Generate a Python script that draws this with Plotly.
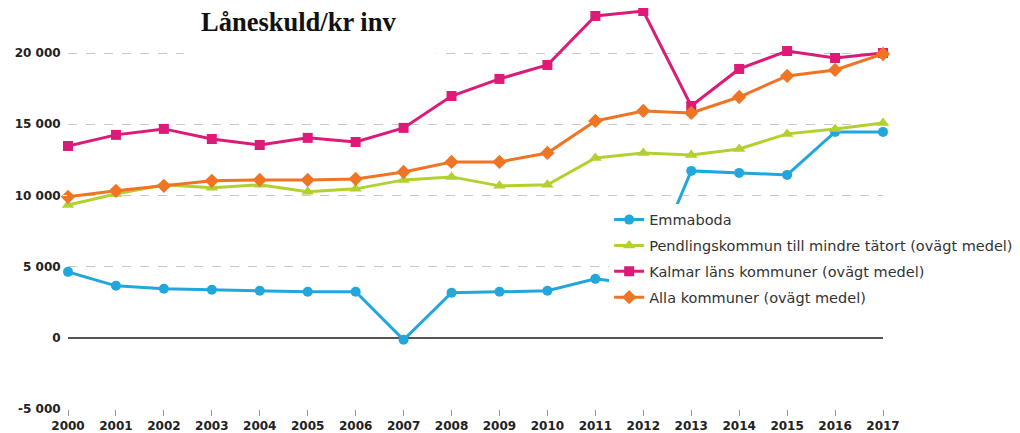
import plotly.graph_objects as go

years = list(range(2000, 2018))

emmaboda = [4630, 3650, 3440, 3370, 3300, 3230, 3230, -140, 3160, 3230, 3300, 4140,
            3700, 11720, 11580, 11440, 14460, 14460]
pendling = [9330, 10100, 10740, 10530, 10740, 10250, 10460, 11090, 11300, 10670, 10740, 12630,
            12980, 12840, 13260, 14320, 14670, 15090]
kalmar = [13470, 14250, 14670, 13960, 13540, 14040, 13750, 14740, 16980, 18180, 19160, 22600,
          22950, 16280, 18880, 20140, 19650, 20000]
alla = [9900, 10320, 10670, 11020, 11090, 11090, 11160, 11650, 12350, 12350, 12980, 15230,
        15930, 15790, 16910, 18390, 18810, 19930]

series_names = ["Emmaboda",
                "Pendlingskommun till mindre tätort (ovägt medel)",
                "Kalmar läns kommuner (ovägt medel)",
                "Alla kommuner (ovägt medel)"]
series_values = [emmaboda, pendling, kalmar, alla]
colors = ["#22a7dd", "#b2d12e", "#dc1a78", "#ef7424"]
symbols = ["circle", "triangle-up", "square", "diamond"]
marker_sizes = [10, 11, 10, 11]

y_tickvals = [-5000, 0, 5000, 10000, 15000, 20000]
y_ticktext = ["-5 000", "0", "5 000", "10 000", "15 000", "20 000"]
x_ticktext = [str(y) for y in years]

fig = go.Figure()
for i, (name, vals) in enumerate(zip(series_names, series_values)):
    fig.add_trace(go.Scatter(
        x=years, y=vals, name=name, mode="lines+markers",
        line=dict(color=colors[i], width=3),
        marker=dict(color=colors[i], symbol=symbols[i], size=marker_sizes[i]),
        legendgroup=f"g{i}", cliponaxis=False,
    ))

fig.update_layout(
    width=1020, height=433,
    margin=dict(l=60, r=145, t=0, b=32),
    paper_bgcolor="white", plot_bgcolor="white",
    showlegend=True,
    legend=dict(x=0.664, y=0.512, xanchor="left", yanchor="top",
                bgcolor="white", borderwidth=0,
                font=dict(family="DejaVu Sans", size=14.5, color="#333333"),
                tracegroupgap=4, traceorder="grouped"),
    annotations=[dict(text="<b>Låneskuld/kr inv</b>", xref="paper", yref="paper",
                      x=0.1411, y=0.965, xanchor="left", yanchor="middle",
                      width=218, align="left",
                      showarrow=False, bgcolor="white", borderpad=17,
                      font=dict(family="Liberation Serif", size=26.5, color="#111111"))],
)

fig.update_xaxes(range=[2000, 2017], tickvals=years, ticktext=x_ticktext,
                 showgrid=False, zeroline=False, showline=False,
                 ticks="outside", ticklen=6, tickcolor="#999999",
                 tickfont=dict(family="DejaVu Sans", size=12, color="#222222", weight="bold"))
fig.update_yaxes(range=[-5000, 23160], tickvals=y_tickvals, ticktext=y_ticktext,
                 showgrid=True, gridcolor="#c8c8c8", griddash="dash", gridwidth=1,
                 zeroline=True, zerolinecolor="#555555", zerolinewidth=2,
                 showline=False, ticks="outside", ticklen=4, tickcolor="white",
                 tickfont=dict(family="DejaVu Sans", size=12, color="#222222", weight="bold"))

fig.write_html("out.html")
